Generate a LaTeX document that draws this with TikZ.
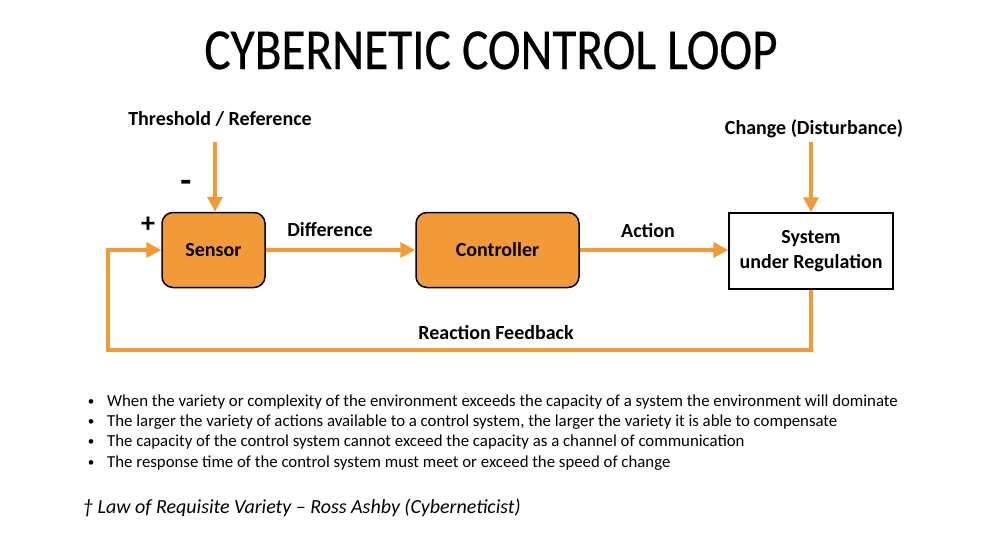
\documentclass[tikz,border=0pt]{standalone}
\usepackage{fontspec}
\setmainfont{Carlito}
\newfontfamily\titlefont[FakeStretch=0.85,FakeBold=0.4]{Carlito}
\usetikzlibrary{arrows.meta}
\definecolor{org}{RGB}{243,154,56}
\begin{document}
\begin{tikzpicture}[x=1pt,y=-1pt,
  flow/.style={draw=org,line width=4pt,line join=miter,-{Triangle[width=15pt,length=15pt]}},
  blk/.style={draw=black,line width=1.5pt,fill=org,rounded corners=11pt,minimum height=75pt,inner sep=0pt,font=\fontsize{20}{24}\selectfont\bfseries},
  sysbox/.style={draw=black,line width=1.5pt,fill=white,minimum width=164pt,minimum height=76pt,inner sep=0pt,align=center,font=\fontsize{20}{25}\selectfont\bfseries},
  lbl/.style={anchor=base,inner sep=0pt,font=\fontsize{20}{24}\selectfont\bfseries},
  bul/.style={anchor=base west,inner sep=0pt,font=\fontsize{16.8}{20}\selectfont},
  dot/.style={anchor=base,inner sep=0pt,font=\fontsize{13}{16}\selectfont}
]
\useasboundingbox (0,0) rectangle (1000,538);
\fill[white] (0,0) rectangle (1000,538);

\node[anchor=base,inner sep=0pt,font=\fontsize{58}{60}\titlefont] (title) at (491,69) {CYBERNETIC CONTROL LOOP};

\node[blk,minimum width=103pt] (s) at (213.5,250) {Sensor};
\node[blk,minimum width=163pt] (c) at (497.5,250) {Controller};
\node[sysbox] (sys) at (811,251) {System\\under Regulation};

\node[lbl] (thrl) at (220,125) {Threshold / Reference};
\node[lbl] (chl) at (814,134) {Change (Disturbance)};
\node[lbl] (dif) at (330,236) {Difference};
\node[lbl] (act) at (648,237) {Action};
\node[lbl] (rfb) at (496,339) {Reaction Feedback};
\node[lbl,font=\fontsize{28}{28}\selectfont\bfseries] (plus) at (148,232) {+};
\node[lbl,font=\fontsize{36}{36}\selectfont\bfseries] (minus) at (186,192) {-};

\coordinate (thr) at (215,142);
\coordinate (chg) at (811,142);
\coordinate (fb) at (108,350);

\draw[flow] (thr) -- (thr |- s.north);
\draw[flow] (chg) -- (sys.north);
\draw[flow] (s.east) -- (c.west);
\draw[flow] (c.east) -- (c.east -| sys.west);
\draw[flow] (sys.south) |- (fb) |- (s.west);

\node[dot] (d1) at (91,405) {•};
\node[dot] (d2) at (91,425) {•};
\node[dot] (d3) at (91,445) {•};
\node[dot] (d4) at (91,466) {•};
\node[bul] (b1) at (107,406) {When the variety or complexity of the environment exceeds the capacity of a system the environment will dominate};
\node[bul] (b2) at (107,426) {The larger the variety of actions available to a control system, the larger the variety it is able to compensate};
\node[bul] (b3) at (107,446) {The capacity of the control system cannot exceed the capacity as a channel of communication};
\node[bul] (b4) at (107,467) {The response time of the control system must meet or exceed the speed of change};

\node[anchor=base west,inner sep=0pt,font=\fontsize{20}{22}\selectfont\itshape] (foot) at (83,513) {† Law of Requisite Variety – Ross Ashby (Cyberneticist)};
\end{tikzpicture}
\end{document}
